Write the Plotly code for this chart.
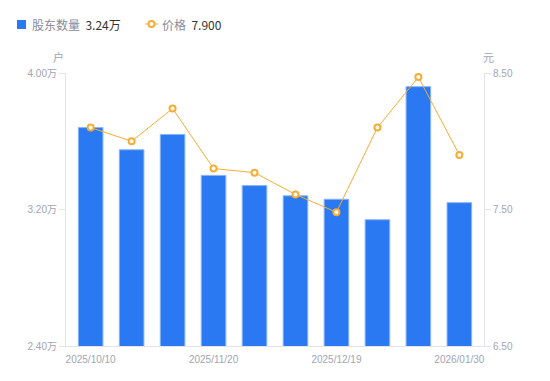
import plotly.graph_objects as go

dates = ["2025/10/10", "2025/10/20", "2025/10/31", "2025/11/20", "2025/11/28",
         "2025/12/10", "2025/12/19", "2025/12/31", "2026/01/20", "2026/01/30"]
holders = [3.68, 3.55, 3.64, 3.40, 3.34, 3.28, 3.26, 3.14, 3.92, 3.24]  # 万户
prices = [8.10, 8.00, 8.24, 7.80, 7.77, 7.61, 7.48, 8.10, 8.47, 7.90]
x_tick_labels = ["2025/10/10", "2025/11/20", "2025/12/19", "2026/01/30"]
left_ticks = [2.40, 3.20, 4.00]
right_ticks = [6.50, 7.50, 8.50]
legend_names = ["股东数量", "价格"]
legend_values = ["3.24万", "7.900"]

BLUE = "#2a78f2"
ORANGE = "#f7ad35"
GRAY = "#a3a3b3"
AXIS = "#e3e3e8"
FONT = "Liberation Sans, Noto Sans CJK SC, sans-serif"

OFF = 8  # browser default body margin
W, H = 550 - OFF, 381 - OFF
L, R, T, B = 66 - OFF, 66, 73 - OFF, 35
PW, PH = W - L - R, H - T - B


def px(x):
    return (x - OFF - L) / PW


def py(y):
    return (H - B - (y - OFF)) / PH


fig = go.Figure()
fig.add_trace(go.Bar(
    x=dates, y=holders, name=legend_names[0],
    marker=dict(color=BLUE, line=dict(color="#86b4f8", width=1)),
    yaxis="y"
))
fig.add_trace(go.Scatter(
    x=dates, y=prices, name=legend_names[1],
    mode="lines+markers",
    line=dict(color=ORANGE, width=1),
    marker=dict(color="white", size=6, line=dict(color=ORANGE, width=2)),
    yaxis="y2"
))

shapes = [
    dict(type="rect", xref="paper", yref="paper", x0=px(17), x1=px(26), y0=py(20), y1=py(29),
         fillcolor=BLUE, line=dict(width=0)),
    dict(type="line", xref="paper", yref="paper", x0=px(145), x1=px(158), y0=py(24), y1=py(24),
         line=dict(color=ORANGE, width=1)),
    dict(type="circle", xref="paper", yref="paper", x0=px(148.5), x1=px(154.5), y0=py(21), y1=py(27),
         fillcolor="white", line=dict(color=ORANGE, width=2)),
]

legend_font = dict(family="Noto Sans CJK SC, sans-serif", size=12, color="#8a8a9a")
annotations = [
    dict(text=legend_names[0] + "  <span style='color:#333333'>" + legend_values[0] + "</span>",
         xref="paper", yref="paper", x=px(30), y=py(24.5), xanchor="left", yanchor="middle",
         showarrow=False, font=legend_font),
    dict(text=legend_names[1] + "  <span style='color:#333333'>" + legend_values[1] + "</span>",
         xref="paper", yref="paper", x=px(160), y=py(24.5), xanchor="left", yanchor="middle",
         showarrow=False, font=legend_font),
    dict(text="户", xref="paper", yref="paper", x=px(58), y=py(57), xanchor="center",
         yanchor="middle", showarrow=False, font=dict(family="Noto Sans CJK SC", size=11, color=GRAY)),
    dict(text="元", xref="paper", yref="paper", x=px(489), y=py(57), xanchor="center",
         yanchor="middle", showarrow=False, font=dict(family="Noto Sans CJK SC", size=11, color=GRAY)),
]

fig.update_layout(
    width=W, height=H,
    margin=dict(l=L, r=R, t=T, b=B, autoexpand=False),
    paper_bgcolor="white", plot_bgcolor="white",
    font=dict(family=FONT, size=10, color=GRAY),
    bargap=0.4,
    showlegend=False,
    shapes=shapes,
    annotations=annotations,
    xaxis=dict(type="category", tickmode="array", tickvals=x_tick_labels, ticktext=x_tick_labels,
               showline=True, linecolor=AXIS, linewidth=1, ticks="", showgrid=False,
               ticklabelstandoff=4,
               tickfont=dict(size=10, color=GRAY), zeroline=False, automargin=False),
    yaxis=dict(range=[2.4, 4.0], tickmode="array", tickvals=left_ticks,
               ticktext=[f"{v:.2f}万" for v in left_ticks],
               showline=True, linecolor=AXIS, ticks="outside", ticklen=6, tickcolor=AXIS,
               showgrid=False, zeroline=False, tickfont=dict(size=10, color=GRAY),
               automargin=False),
    yaxis2=dict(range=[6.5, 8.5], overlaying="y", side="right", tickmode="array",
                tickvals=right_ticks, ticktext=[f"{v:.2f}" for v in right_ticks],
                showline=True, linecolor=AXIS, ticks="outside", ticklen=6, tickcolor=AXIS,
                showgrid=False, zeroline=False, tickfont=dict(size=10, color=GRAY),
                automargin=False),
)

fig.write_html("out.html")
